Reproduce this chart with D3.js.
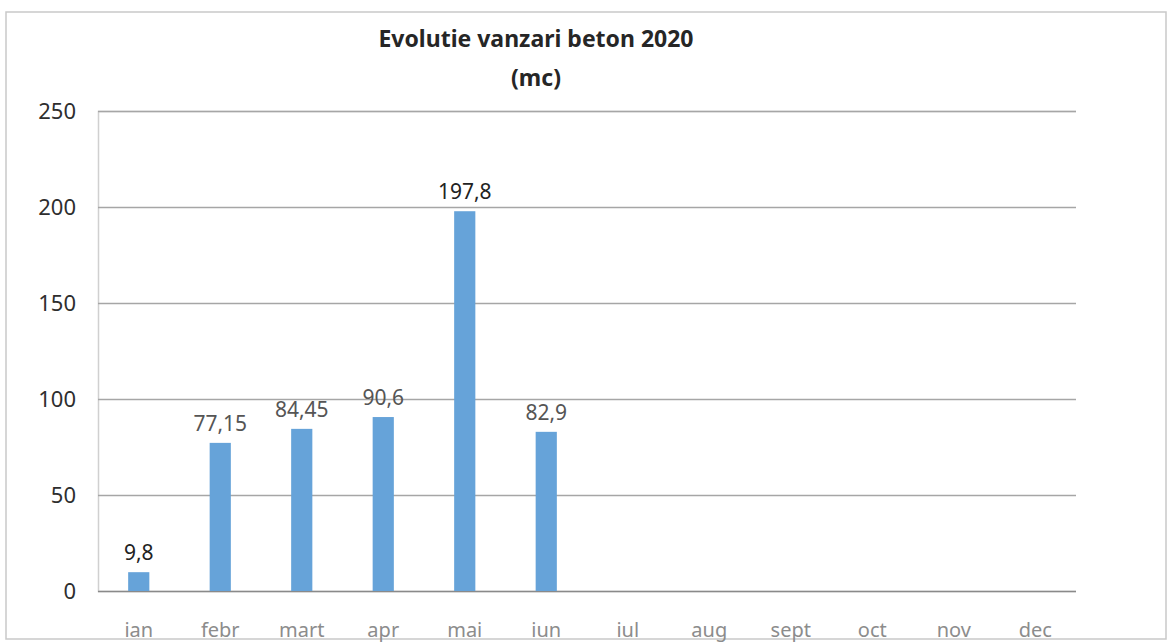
<!DOCTYPE html>
<html>
<head>
<meta charset="utf-8">
<script src="https://cdn.jsdelivr.net/npm/d3@7.9.0/dist/d3.min.js"></script>
<style>
  html, body { margin: 0; padding: 0; background: #fff; }
  svg { display: block; }
  svg text { font-family: 'Noto Sans', 'Open Sans', sans-serif; }
</style>
</head>
<body>
<svg id="chart" width="1171" height="642"></svg>
<script>
// ---- data ----
const months = ['ian', 'febr', 'mart', 'apr', 'mai', 'iun', 'iul', 'aug', 'sept', 'oct', 'nov', 'dec'];
const sales = [9.8, 77.15, 84.45, 90.6, 197.8, 82.9, null, null, null, null, null, null];
const yTicks = [0, 50, 100, 150, 200, 250];
const titleLines = ['Evolutie vanzari beton 2020', '(mc)'];

const W = 1171, H = 642;
const plot = { left: 98, right: 1076, top: 111, bottom: 591 };

const svg = d3.select('#chart');

// chart area border (scanned page)
svg.append('rect')
  .attr('x', 6).attr('y', 12)
  .attr('width', 1160).attr('height', 627)
  .attr('fill', 'none')
  .attr('stroke', '#c9c9c9')
  .attr('stroke-width', 1.5);

const x = d3.scaleBand()
  .domain(months)
  .range([plot.left, plot.right])
  .paddingInner(0.74)
  .paddingOuter(0.37);

const y = d3.scaleLinear()
  .domain([0, 250])
  .range([plot.bottom, plot.top]);

// gridlines + y labels
const yAxis = svg.append('g')
  .attr('transform', `translate(${plot.left},0)`)
  .call(d3.axisLeft(y)
    .tickValues(yTicks)
    .tickSize(-(plot.right - plot.left))
    .tickPadding(22));
yAxis.attr('font-family', null);
yAxis.select('.domain').attr('stroke', '#d0d0d0').attr('stroke-width', 1.5);
yAxis.selectAll('.tick line')
  .attr('stroke', (d) => (d === 0 ? '#8a8a8a' : '#a6a6a6'))
  .attr('stroke-width', 1.5);
yAxis.selectAll('.tick text')
  .attr('fill', '#2e2e2e')
  .attr('dy', '0.36em')
  .style('font-size', '22px');

// x labels
const xAxis = svg.append('g')
  .attr('transform', `translate(0,${plot.bottom})`)
  .call(d3.axisBottom(x).tickSize(0).tickPadding(32));
xAxis.attr('font-family', null);
xAxis.select('.domain').remove();
xAxis.selectAll('.tick text')
  .attr('fill', '#8c8c8c')
  .style('font-size', '20px');

// bars
const rows = months.map((m, i) => ({ month: m, value: sales[i] })).filter((d) => d.value != null);

svg.append('g')
  .selectAll('rect')
  .data(rows)
  .join('rect')
  .attr('x', (d) => x(d.month))
  .attr('width', x.bandwidth())
  .attr('y', (d) => y(d.value))
  .attr('height', (d) => y(0) - y(d.value))
  .attr('fill', '#66a3d9');

// data labels
const fmt = (v) => String(v).replace('.', ',');
svg.append('g')
  .selectAll('text')
  .data(rows)
  .join('text')
  .attr('x', (d) => x(d.month) + x.bandwidth() / 2)
  .attr('y', (d) => y(d.value) - 12)
  .attr('text-anchor', 'middle')
  .attr('fill', (d) => (d.value < 20 || d.value > 150 ? '#222' : '#555'))
  .style('font-size', '21px')
  .text((d) => fmt(d.value));

// title
svg.append('g')
  .selectAll('text')
  .data(titleLines)
  .join('text')
  .attr('x', 536)
  .attr('y', (d, i) => 47 + i * 39)
  .attr('text-anchor', 'middle')
  .attr('fill', '#262626')
  .style('font-size', '23px')
  .style('font-weight', 'bold')
  .text((d) => d);
</script>
</body>
</html>
